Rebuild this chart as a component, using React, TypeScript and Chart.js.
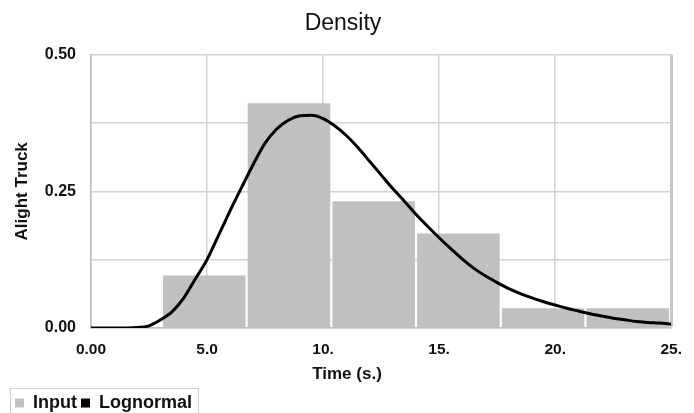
import React, { useEffect, useRef } from "react";
import { Chart, registerables } from "chart.js";

Chart.register(...registerables);

const chartTitle = "Density";
const xAxisTitle = "Time (s.)";
const yAxisTitle = "Alight Truck";

const xTickValues = [0, 5, 10, 15, 20, 25];
const xTickLabels = ["0.00", "5.0", "10.", "15.", "20.", "25."];
const yGridValues = [0, 0.125, 0.25, 0.375, 0.5];
const yTickValues = [0, 0.25, 0.5];
const yTickLabels = ["0.00", "0.25", "0.50"];

const seriesNames = ["Input", "Lognormal"];

// histogram bins (centres) and densities
const inputBinCenters = [4.88, 8.53, 12.18, 15.83, 19.48, 23.13];
const inputDensity = [0.096, 0.411, 0.232, 0.173, 0.036, 0.036];

// fitted lognormal curve
const lognormalX = [
  0, 1, 2, 2.5, 3, 3.5, 4, 4.5, 5, 5.5, 6, 6.5, 7, 7.5, 8, 8.5, 9, 9.5, 10,
  10.5, 11, 11.5, 12, 12.5, 13, 13.5, 14, 14.5, 15, 15.5, 16, 16.5, 17, 17.5,
  18, 18.5, 19, 19.5, 20, 20.5, 21, 21.5, 22, 22.5, 23, 23.5, 24, 24.5, 25,
];
const lognormalY = [
  0, 0, 0.001, 0.004, 0.015, 0.03, 0.055, 0.09, 0.125, 0.17, 0.215, 0.258,
  0.3, 0.338, 0.364, 0.38, 0.388, 0.389, 0.383, 0.37, 0.352, 0.33, 0.305,
  0.28, 0.255, 0.232, 0.208, 0.186, 0.165, 0.145, 0.126, 0.109, 0.095, 0.083,
  0.072, 0.063, 0.055, 0.048, 0.042, 0.036, 0.031, 0.026, 0.022, 0.018,
  0.015, 0.012, 0.01, 0.009, 0.007,
];

const FONT = "'Liberation Sans', Arial, sans-serif";
const TEXT = "#111111";
const GRID = "#d3d3d3";
const BAR = "#c0c0c0";

export default function App() {
  const ref = useRef<HTMLCanvasElement | null>(null);

  useEffect(() => {
    if (!ref.current) return;

    const legendBox = {
      id: "legendBox",
      afterDraw(chart: any) {
        const lg = chart.legend;
        if (!lg || !lg.legendHitBoxes || !lg.legendHitBoxes.length) return;
        const boxes = lg.legendHitBoxes;
        const first = boxes[0];
        const last = boxes[boxes.length - 1];
        const ctx = chart.ctx;
        ctx.save();
        ctx.strokeStyle = "#cfcfcf";
        ctx.lineWidth = 1;
        const l = Math.round(first.left - 5) + 0.5;
        const r = Math.round(last.left + last.width + 6) + 0.5;
        const t = Math.round(first.top - 6) + 0.5;
        ctx.strokeRect(l, t, r - l, chart.height - t + 10);
        ctx.restore();
      },
    };

    const xTitlePlugin = {
      id: "xTitle",
      afterDraw(chart: any) {
        const ctx = chart.ctx;
        ctx.save();
        ctx.font = `bold 17px ${FONT}`;
        ctx.fillStyle = TEXT;
        ctx.textAlign = "center";
        ctx.textBaseline = "middle";
        ctx.fillText(xAxisTitle, chart.width / 2, chart.chartArea.bottom + 46);
        ctx.restore();
      },
    };

    const chart = new Chart(ref.current, {
      type: "line",
      data: {
        datasets: [
          {
            type: "bar",
            label: seriesNames[0],
            data: inputBinCenters.map((x, i) => ({ x, y: inputDensity[i] })),
            backgroundColor: BAR,
            borderWidth: 0,
            categoryPercentage: 1,
            barPercentage: 0.975,
            order: 2,
          },
          {
            type: "line",
            label: seriesNames[1],
            data: lognormalX.map((x, i) => ({ x, y: lognormalY[i] })),
            borderColor: "#000000",
            backgroundColor: "#000000",
            borderWidth: 3,
            pointRadius: 0,
            tension: 0.4,
            cubicInterpolationMode: "monotone",
            order: 1,
          },
        ] as any,
      },
      options: {
        animation: false,
        responsive: false,
        maintainAspectRatio: false,
        layout: { padding: { left: 11, right: 19, top: 0, bottom: -9 } },
        plugins: {
          title: {
            display: true,
            text: chartTitle,
            color: TEXT,
            font: { family: FONT, size: 23, weight: "normal" },
            padding: { top: 10, bottom: 17 },
          },
          legend: {
            display: true,
            position: "bottom",
            align: "start",
            labels: {
              color: TEXT,
              font: { family: FONT, size: 18, weight: "bold" },
              boxWidth: 9,
              boxHeight: 9,
              padding: 4,
              generateLabels: () => {
                const cols = [BAR, "#000000"];
                return seriesNames.map((name, i) => ({
                  text: name,
                  fillStyle: cols[i],
                  strokeStyle: cols[i],
                  lineWidth: 0,
                  hidden: false,
                  datasetIndex: i,
                  fontColor: TEXT,
                }));
              },
            },
          },
          tooltip: { enabled: false },
        },
        scales: {
          x: {
            type: "linear",
            min: 0,
            max: 25,
            offset: false,
            afterBuildTicks: (scale: any) => {
              scale.ticks = xTickValues.map((v) => ({ value: v }));
            },
            afterFit: (scale: any) => {
              scale.height = 62;
            },
            ticks: {
              color: TEXT,
              font: { family: FONT, size: 15.5, weight: "bold" },
              padding: 12,
              maxRotation: 0,
              autoSkip: false,
              callback: (v: any) => {
                const i = xTickValues.indexOf(Number(v));
                return i >= 0 ? xTickLabels[i] : "";
              },
            },
            grid: {
              color: (c: any) => (c.tick && c.tick.value === 25 ? "#c6c6c6" : GRID),
              lineWidth: (c: any) => (c.tick && c.tick.value === 25 ? 3 : 1.5),
              drawTicks: false,
              offset: false,
            },
            border: { display: true, color: "#bdbdbd", width: 1.5 },
            title: { display: false },
          },
          y: {
            type: "linear",
            min: 0,
            max: 0.5,
            afterBuildTicks: (scale: any) => {
              scale.ticks = yGridValues.map((v) => ({ value: v }));
            },
            afterFit: (scale: any) => {
              scale.width = 80;
            },
            ticks: {
              color: TEXT,
              font: { family: FONT, size: 16, weight: "bold" },
              padding: 15,
              autoSkip: false,
              callback: (v: any) => {
                const i = yTickValues.indexOf(Number(v));
                return i >= 0 ? yTickLabels[i] : "";
              },
            },
            grid: { color: GRID, lineWidth: 1.5, drawTicks: false },
            border: { display: true, color: "#bdbdbd", width: 1.5 },
            title: {
              display: true,
              text: yAxisTitle,
              color: TEXT,
              font: { family: FONT, size: 17, weight: "bold" },
              padding: { top: 1, bottom: 0 },
            },
          },
        },
      },
      plugins: [legendBox, xTitlePlugin],
    } as any);

    return () => chart.destroy();
  }, []);

  return (
    <div style={{ position: "absolute", left: 0, top: 0, width: 694, height: 413, overflow: "hidden", background: "#ffffff" }}>
      <canvas ref={ref} width={694} height={413} style={{ display: "block", width: 694, height: 413 }} />
    </div>
  );
}
